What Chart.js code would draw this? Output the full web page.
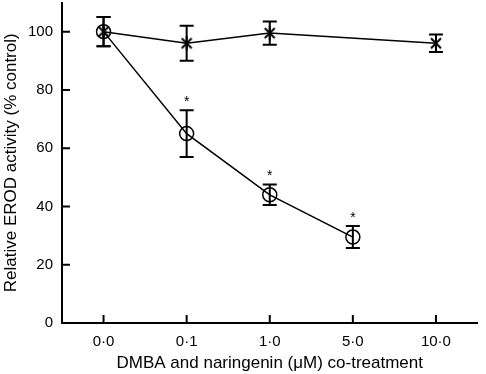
<!DOCTYPE html>
<html>
<head>
<meta charset="utf-8">
<script src="https://cdn.jsdelivr.net/npm/chart.js@4"></script>
<style>
  html, body { margin: 0; padding: 0; background: #fff; overflow: hidden; }
  #wrap { width: 486px; height: 380px; margin-top: -6px; }
</style>
</head>
<body>
<div id="wrap"><canvas id="chart"></canvas></div>
<script>
const doses = ['0·0', '0·1', '1·0', '5·0', '10·0']
const dmbaOnly = [100, 96, 99.5, 96]
const dmbaOnlyErr = [5, 6, 4, 3]
const dmbaOnlyLabels = ['0·0', '0·1', '1·0', '10·0']
const withNar = [100, 65, 44, 29.5, null]
const withNarErr = [5, 8, 3.5, 3.8, null]
const significant = [false, true, true, true, false]
const yTicks = [0, 20, 40, 60, 80, 100]

const font = 'Liberation Sans, Arial, sans-serif'

// six-armed asterisk marker (x plus a vertical stroke)
const asterisk = document.createElement('canvas')
asterisk.width = 16
asterisk.height = 16
const a = asterisk.getContext('2d')
a.strokeStyle = '#000'
a.lineWidth = 2
a.beginPath()
a.moveTo(3, 3); a.lineTo(13, 13)
a.moveTo(13, 3); a.lineTo(3, 13)
a.moveTo(8, 1); a.lineTo(8, 15)
a.stroke()

// error bars, asterisks and inward tick marks
const extras = {
    id: 'extras',
    afterDatasetsDraw(chart) {
        const ctx = chart.ctx
        const x = chart.scales.x
        const y = chart.scales.y
        const area = chart.chartArea
        ctx.save()
        ctx.strokeStyle = '#000'
        ctx.lineWidth = 2

        const bars = (labels, vals, errs) => {
            labels.forEach((lab, i) => {
                if (vals[i] == null) return
                const px = x.getPixelForValue(doses.indexOf(lab))
                const top = y.getPixelForValue(vals[i] + errs[i])
                const bot = y.getPixelForValue(vals[i] - errs[i])
                ctx.beginPath()
                ctx.moveTo(px, top); ctx.lineTo(px, bot)
                ctx.moveTo(px - 7, top); ctx.lineTo(px + 7, top)
                ctx.moveTo(px - 7, bot); ctx.lineTo(px + 7, bot)
                ctx.stroke()
            })
        }
        bars(dmbaOnlyLabels, dmbaOnly, dmbaOnlyErr)
        bars(doses, withNar, withNarErr)

        ctx.fillStyle = '#000'
        ctx.font = '14px ' + font
        ctx.textAlign = 'center'
        ctx.textBaseline = 'bottom'
        significant.forEach((s, i) => {
            if (!s) return
            const px = x.getPixelForValue(i)
            const top = y.getPixelForValue(withNar[i] + withNarErr[i])
            ctx.fillText('*', px, top - 1)
        })

        ctx.beginPath()
        yTicks.forEach(v => {
            const py = y.getPixelForValue(v)
            ctx.moveTo(area.left, py); ctx.lineTo(area.left + 8, py)
        })
        doses.forEach((d, i) => {
            const px = x.getPixelForValue(i)
            ctx.moveTo(px, area.bottom); ctx.lineTo(px, area.bottom - 8)
        })
        ctx.stroke()
        ctx.restore()
    }
}

new Chart(document.getElementById('chart'), {
    type: 'line',
    data: {
        labels: doses,
        datasets: [
            {
                label: 'DMBA',
                data: dmbaOnly.map((v, i) => ({ x: dmbaOnlyLabels[i], y: v })),
                borderColor: '#000',
                borderWidth: 1.5,
                pointStyle: asterisk,
                pointRadius: 7,
                fill: false
            },
            {
                label: 'DMBA + naringenin',
                data: withNar,
                borderColor: '#000',
                borderWidth: 1.5,
                pointStyle: 'circle',
                pointRadius: 7,
                pointBorderWidth: 1.5,
                pointBorderColor: '#000',
                pointBackgroundColor: 'transparent',
                fill: false
            }
        ]
    },
    options: {
        responsive: true,
        maintainAspectRatio: false,
        animation: false,
        layout: { padding: { top: 0, right: 0, left: 0, bottom: 0 } },
        plugins: {
            legend: { display: false },
            tooltip: { enabled: false }
        },
        scales: {
            x: {
                type: 'category',
                offset: true,
                grid: { display: false, drawTicks: false },
                border: { display: true, color: '#000', width: 2 },
                ticks: { color: '#000', font: { family: font, size: 15 }, padding: 10 },
                title: {
                    display: true,
                    text: 'DMBA and naringenin (μM) co-treatment',
                    color: '#000',
                    font: { family: font, size: 17 },
                    padding: { top: 6, bottom: 0 }
                },
                afterFit: s => { s.height = 51; s.paddingLeft = 0; s.paddingRight = 0 }
            },
            y: {
                min: 0,
                max: 110,
                grid: { display: false, drawTicks: false },
                border: { display: true, color: '#000', width: 2 },
                afterBuildTicks: s => { s.ticks = yTicks.map(v => ({ value: v })) },
                ticks: { color: '#000', font: { family: font, size: 15 }, padding: 9 },
                title: {
                    display: true,
                    text: 'Relative EROD activity (% control)',
                    color: '#000',
                    font: { family: font, size: 17 },
                    padding: { top: 1, bottom: 0 }
                },
                afterFit: s => { s.width = 62; s.paddingTop = 0; s.paddingBottom = 0 }
            }
        }
    },
    plugins: [extras]
})
</script>
</body>
</html>
